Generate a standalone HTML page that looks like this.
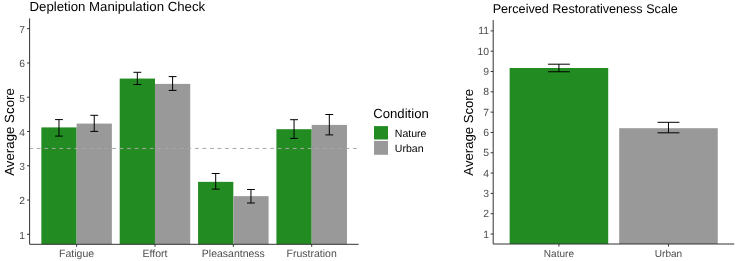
<!DOCTYPE html>
<html><head><meta charset="utf-8"><style>
html,body{margin:0;padding:0;background:#fff;width:736px;height:261px;overflow:hidden}
svg{display:block;will-change:transform}
text{font-family:"Liberation Sans",sans-serif;text-rendering:geometricPrecision}
</style></head><body>
<svg width="736" height="261" viewBox="0 0 736 261">
<rect width="736" height="261" fill="#fff"/>
<rect x="41.35" y="127.40" width="35.26" height="116.90" fill="#228B22"/>
<rect x="76.61" y="123.60" width="35.26" height="120.70" fill="#999999"/>
<rect x="119.71" y="78.55" width="35.26" height="165.75" fill="#228B22"/>
<rect x="154.97" y="83.90" width="35.26" height="160.40" fill="#999999"/>
<rect x="198.07" y="181.85" width="35.26" height="62.45" fill="#228B22"/>
<rect x="233.33" y="196.15" width="35.26" height="48.15" fill="#999999"/>
<rect x="276.42" y="129.20" width="35.26" height="115.10" fill="#228B22"/>
<rect x="311.69" y="124.90" width="35.26" height="119.40" fill="#999999"/>
<path d="M55.07 119.60H62.90M58.98 119.60V136.10M55.07 136.10H62.90" stroke="#000" stroke-width="1" fill="none"/>
<path d="M90.33 115.30H98.16M94.24 115.30V131.40M90.33 131.40H98.16" stroke="#000" stroke-width="1" fill="none"/>
<path d="M133.42 72.30H141.26M137.34 72.30V84.50M133.42 84.50H141.26" stroke="#000" stroke-width="1" fill="none"/>
<path d="M168.68 76.60H176.52M172.60 76.60V90.40M168.68 90.40H176.52" stroke="#000" stroke-width="1" fill="none"/>
<path d="M211.78 173.50H219.62M215.70 173.50V189.10M211.78 189.10H219.62" stroke="#000" stroke-width="1" fill="none"/>
<path d="M247.04 189.50H254.88M250.96 189.50V203.00M247.04 203.00H254.88" stroke="#000" stroke-width="1" fill="none"/>
<path d="M290.14 119.70H297.97M294.06 119.70V138.40M290.14 138.40H297.97" stroke="#000" stroke-width="1" fill="none"/>
<path d="M325.40 114.50H333.23M329.32 114.50V134.90M325.40 134.90H333.23" stroke="#000" stroke-width="1" fill="none"/>
<line x1="29.6" y1="148.45" x2="358.7" y2="148.45" stroke="#a8a8a8" stroke-width="1" stroke-dasharray="3.77 3.76" stroke-dashoffset="0.33"/>
<path d="M29.6 18.4V244.3H358.7" stroke="#333333" stroke-width="1" fill="none"/>
<line x1="27.1" y1="234.30" x2="29.6" y2="234.30" stroke="#333333" stroke-width="1"/>
<text x="25.1" y="238.75" text-anchor="end" font-size="10.3" fill="#4D4D4D">1</text>
<line x1="27.1" y1="200.03" x2="29.6" y2="200.03" stroke="#333333" stroke-width="1"/>
<text x="25.1" y="204.48" text-anchor="end" font-size="10.3" fill="#4D4D4D">2</text>
<line x1="27.1" y1="165.77" x2="29.6" y2="165.77" stroke="#333333" stroke-width="1"/>
<text x="25.1" y="170.22" text-anchor="end" font-size="10.3" fill="#4D4D4D">3</text>
<line x1="27.1" y1="131.50" x2="29.6" y2="131.50" stroke="#333333" stroke-width="1"/>
<text x="25.1" y="135.95" text-anchor="end" font-size="10.3" fill="#4D4D4D">4</text>
<line x1="27.1" y1="97.23" x2="29.6" y2="97.23" stroke="#333333" stroke-width="1"/>
<text x="25.1" y="101.68" text-anchor="end" font-size="10.3" fill="#4D4D4D">5</text>
<line x1="27.1" y1="62.97" x2="29.6" y2="62.97" stroke="#333333" stroke-width="1"/>
<text x="25.1" y="67.42" text-anchor="end" font-size="10.3" fill="#4D4D4D">6</text>
<line x1="27.1" y1="28.70" x2="29.6" y2="28.70" stroke="#333333" stroke-width="1"/>
<text x="25.1" y="33.15" text-anchor="end" font-size="10.3" fill="#4D4D4D">7</text>
<line x1="76.61" y1="244.3" x2="76.61" y2="246.8" stroke="#333333" stroke-width="1"/>
<text x="76.61" y="256.8" text-anchor="middle" font-size="10.5" fill="#4D4D4D">Fatigue</text>
<line x1="154.97" y1="244.3" x2="154.97" y2="246.8" stroke="#333333" stroke-width="1"/>
<text x="154.97" y="256.8" text-anchor="middle" font-size="10.5" fill="#4D4D4D">Effort</text>
<line x1="233.33" y1="244.3" x2="233.33" y2="246.8" stroke="#333333" stroke-width="1"/>
<text x="233.33" y="256.8" text-anchor="middle" font-size="10.5" fill="#4D4D4D">Pleasantness</text>
<line x1="311.69" y1="244.3" x2="311.69" y2="246.8" stroke="#333333" stroke-width="1"/>
<text x="311.69" y="256.8" text-anchor="middle" font-size="10.5" fill="#4D4D4D">Frustration</text>
<text x="29.5" y="11" font-size="13.22" fill="#000">Depletion Manipulation Check</text>
<text transform="translate(13.8 132) rotate(-90)" text-anchor="middle" font-size="13.3" fill="#000">Average Score</text>
<text x="373.25" y="118.1" font-size="13.15" fill="#000">Condition</text>
<rect x="374" y="126.1" width="14" height="13.4" fill="#228B22"/>
<rect x="374" y="140.9" width="14" height="13.9" fill="#999999"/>
<text x="394.8" y="137.2" font-size="10.55" fill="#000">Nature</text>
<text x="394.8" y="152.0" font-size="10.55" fill="#000">Urban</text>
<rect x="509.63" y="68" width="98.59" height="176.00" fill="#228B22"/>
<rect x="619.18" y="128.2" width="98.59" height="115.80" fill="#999999"/>
<path d="M547.97 64.20H569.88M558.93 64.20V71.75M547.97 71.75H569.88" stroke="#000" stroke-width="1" fill="none"/>
<path d="M657.52 122.30H679.43M668.47 122.30V132.80M657.52 132.80H679.43" stroke="#000" stroke-width="1" fill="none"/>
<path d="M493.2 20.1V244.0H734.2" stroke="#333333" stroke-width="1" fill="none"/>
<line x1="490.7" y1="234.00" x2="493.2" y2="234.00" stroke="#333333" stroke-width="1"/>
<text x="489.0" y="237.50" text-anchor="end" font-size="10.4" fill="#4D4D4D">1</text>
<line x1="490.7" y1="213.69" x2="493.2" y2="213.69" stroke="#333333" stroke-width="1"/>
<text x="489.0" y="217.19" text-anchor="end" font-size="10.4" fill="#4D4D4D">2</text>
<line x1="490.7" y1="193.38" x2="493.2" y2="193.38" stroke="#333333" stroke-width="1"/>
<text x="489.0" y="196.88" text-anchor="end" font-size="10.4" fill="#4D4D4D">3</text>
<line x1="490.7" y1="173.07" x2="493.2" y2="173.07" stroke="#333333" stroke-width="1"/>
<text x="489.0" y="176.57" text-anchor="end" font-size="10.4" fill="#4D4D4D">4</text>
<line x1="490.7" y1="152.76" x2="493.2" y2="152.76" stroke="#333333" stroke-width="1"/>
<text x="489.0" y="156.26" text-anchor="end" font-size="10.4" fill="#4D4D4D">5</text>
<line x1="490.7" y1="132.45" x2="493.2" y2="132.45" stroke="#333333" stroke-width="1"/>
<text x="489.0" y="135.95" text-anchor="end" font-size="10.4" fill="#4D4D4D">6</text>
<line x1="490.7" y1="112.14" x2="493.2" y2="112.14" stroke="#333333" stroke-width="1"/>
<text x="489.0" y="115.64" text-anchor="end" font-size="10.4" fill="#4D4D4D">7</text>
<line x1="490.7" y1="91.83" x2="493.2" y2="91.83" stroke="#333333" stroke-width="1"/>
<text x="489.0" y="95.33" text-anchor="end" font-size="10.4" fill="#4D4D4D">8</text>
<line x1="490.7" y1="71.52" x2="493.2" y2="71.52" stroke="#333333" stroke-width="1"/>
<text x="489.0" y="75.02" text-anchor="end" font-size="10.4" fill="#4D4D4D">9</text>
<line x1="490.7" y1="51.21" x2="493.2" y2="51.21" stroke="#333333" stroke-width="1"/>
<text x="489.0" y="54.71" text-anchor="end" font-size="10.4" fill="#4D4D4D">10</text>
<line x1="490.7" y1="30.90" x2="493.2" y2="30.90" stroke="#333333" stroke-width="1"/>
<text x="489.0" y="34.40" text-anchor="end" font-size="10.4" fill="#4D4D4D">11</text>
<line x1="558.93" y1="244.0" x2="558.93" y2="246.5" stroke="#333333" stroke-width="1"/>
<text x="558.93" y="256.7" text-anchor="middle" font-size="10.05" fill="#4D4D4D">Nature</text>
<line x1="668.47" y1="244.0" x2="668.47" y2="246.5" stroke="#333333" stroke-width="1"/>
<text x="668.47" y="256.7" text-anchor="middle" font-size="10.05" fill="#4D4D4D">Urban</text>
<text x="492.7" y="12.6" font-size="12.61" fill="#000">Perceived Restorativeness Scale</text>
<text transform="translate(472.9 132.3) rotate(-90)" text-anchor="middle" font-size="13.15" fill="#000">Average Score</text>
</svg>
</body></html>
